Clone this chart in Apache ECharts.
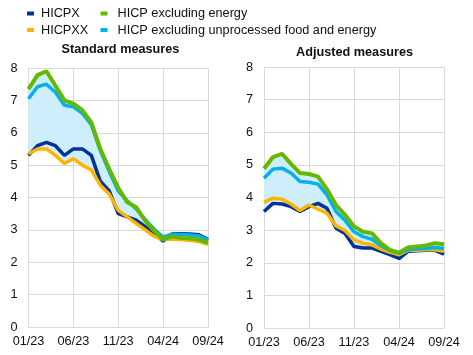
<!DOCTYPE html>
<html><head><meta charset="utf-8">
<script src="https://cdn.jsdelivr.net/npm/echarts@6/dist/echarts.min.js"></script>
<style>html,body{margin:0;padding:0;background:#fff}#c{width:473px;height:355px}</style>
</head><body><div id="c"></div>
<script>
const months = ['01/23','02/23','03/23','04/23','05/23','06/23','07/23','08/23','09/23','10/23','11/23','12/23',
                '01/24','02/24','03/24','04/24','05/24','06/24','07/24','08/24','09/24'];
const yTicks = [0,1,2,3,4,5,6,7,8];
const panelTitles = ['Standard measures','Adjusted measures'];
const seriesNames = ['HICPX','HICPXX','HICP excluding energy','HICP excluding unprocessed food and energy'];

// Standard measures
const hicpxStd   = [5.3,5.6,5.7,5.6,5.3,5.5,5.5,5.3,4.5,4.2,3.5,3.4,3.3,3.1,2.9,2.65,2.88,2.88,2.87,2.85,2.7];
const hicpxxStd  = [5.35,5.5,5.5,5.3,5.05,5.2,5.0,4.85,4.38,4.1,3.6,3.4,3.2,3.0,2.8,2.7,2.72,2.7,2.68,2.64,2.55];
const exEnergyStd= [7.35,7.78,7.9,7.45,7.0,6.9,6.7,6.32,5.5,4.88,4.3,3.85,3.7,3.28,2.97,2.7,2.8,2.75,2.74,2.7,2.6];
const exUnprocStd= [7.05,7.42,7.5,7.25,6.85,6.8,6.6,6.25,5.45,4.8,4.2,3.9,3.65,3.32,3.02,2.78,2.87,2.86,2.84,2.82,2.68];

// Adjusted measures
const hicpxAdj   = [3.57,3.82,3.8,3.72,3.57,3.72,3.82,3.67,3.06,2.9,2.5,2.45,2.45,2.35,2.25,2.13,2.35,2.37,2.38,2.38,2.26];
const hicpxxAdj  = [3.85,3.98,3.95,3.8,3.6,3.77,3.64,3.52,3.13,2.99,2.7,2.6,2.55,2.42,2.32,2.25,2.38,2.38,2.4,2.4,2.35];
const exEnergyAdj= [4.88,5.24,5.34,5.03,4.75,4.72,4.64,4.25,3.77,3.47,3.11,2.95,2.9,2.6,2.39,2.31,2.47,2.5,2.53,2.6,2.57];
const exUnprocAdj= [4.59,4.87,4.9,4.75,4.49,4.47,4.41,4.08,3.57,3.3,2.95,2.8,2.72,2.52,2.37,2.29,2.4,2.42,2.44,2.47,2.44];

const colors = {HICPX:'#003299', HICPXX:'#ffb400', 'HICP excluding energy':'#65b800',
  'HICP excluding unprocessed food and energy':'#00b1ea'};
const bandColor = '#cdeefa';
const gridColor = '#d9d9d9';
const font = 'Liberation Sans, Arial, sans-serif';
const fs = 12.7;

const panels = [
  {HICPX:hicpxStd, HICPXX:hicpxxStd, 'HICP excluding energy':exEnergyStd, 'HICP excluding unprocessed food and energy':exUnprocStd},
  {HICPX:hicpxAdj, HICPXX:hicpxxAdj, 'HICP excluding energy':exEnergyAdj, 'HICP excluding unprocessed food and energy':exUnprocAdj}
];

const grids = [
  {left:28.5, top:68, width:179.5, height:259},
  {left:264, top:67, width:180, height:261}
];

const xAxes = [], yAxes = [], series = [];
panels.forEach((p, k) => {
  xAxes.push({type:'category', gridIndex:k, data:months, boundaryGap:false,
    axisLine:{lineStyle:{color:gridColor, width:1}}, axisTick:{show:false},
    axisLabel:{interval:4, color:'#111', fontSize:fs, fontFamily:font, margin:8},
    splitLine:{show:true, interval:4, lineStyle:{color:gridColor, width:1}}});
  yAxes.push({type:'value', gridIndex:k, min:yTicks[0], max:yTicks[yTicks.length-1], interval:1,
    axisLine:{show:true, lineStyle:{color:gridColor}}, axisTick:{show:false},
    axisLabel:{color:'#111', fontSize:fs, fontFamily:font, margin:11},
    splitLine:{lineStyle:{color:gridColor, width:1}}});
  const arrs = seriesNames.map(n => p[n]);
  const lo = months.map((_, i) => Math.min(...arrs.map(a => a[i])));
  const hi = months.map((_, i) => Math.max(...arrs.map(a => a[i])));
  series.push({type:'line', xAxisIndex:k, yAxisIndex:k, stack:'band'+k, data:lo, symbol:'none', silent:true,
    lineStyle:{opacity:0}, areaStyle:{opacity:0}, z:1});
  series.push({type:'line', xAxisIndex:k, yAxisIndex:k, stack:'band'+k, data:hi.map((h,i)=>+(h-lo[i]).toFixed(3)),
    symbol:'none', silent:true, lineStyle:{opacity:0}, areaStyle:{color:bandColor, opacity:1}, z:1});
  const widths = {HICPX:3.5, HICPXX:3.5, 'HICP excluding energy':4, 'HICP excluding unprocessed food and energy':3.5};
  const zs = {HICPX:2, HICPXX:3, 'HICP excluding unprocessed food and energy':4, 'HICP excluding energy':5};
  seriesNames.forEach(n => {
    series.push({name:n, type:'line', xAxisIndex:k, yAxisIndex:k, data:p[n], symbol:'none',
      lineStyle:{color:colors[n], width:widths[n]}, itemStyle:{color:colors[n]}, z:zs[n]});
  });
});

function legendOf(left, names, gapPad) {
  return {orient:'vertical', left:left, top:6.5, padding:0, data:names, icon:'rect',
    itemWidth:7, itemHeight:4, itemGap:2.5, selectedMode:false,
    textStyle:{color:'#111', fontSize:fs, fontFamily:font, lineHeight:14, padding:[0,0,0,gapPad]}};
}

const chart = echarts.init(document.getElementById('c'), null, {renderer:'canvas'});
chart.setOption({
  animation:false,
  backgroundColor:'#fff',
  legend:[
    legendOf(27, ['HICPX','HICPXX'], 2),
    legendOf(100.5, ['HICP excluding energy','HICP excluding unprocessed food and energy'], 5)
  ],
  graphic:[
    {type:'text', x:120.5, y:49.5, style:{text:panelTitles[0], textAlign:'center', textVerticalAlign:'middle',
      font:'bold '+fs+'px '+font, fill:'#111'}},
    {type:'text', x:354.5, y:52.5, style:{text:panelTitles[1], textAlign:'center', textVerticalAlign:'middle',
      font:'bold '+fs+'px '+font, fill:'#111'}}
  ],
  grid:grids,
  xAxis:xAxes,
  yAxis:yAxes,
  series:series
});
</script></body></html>
